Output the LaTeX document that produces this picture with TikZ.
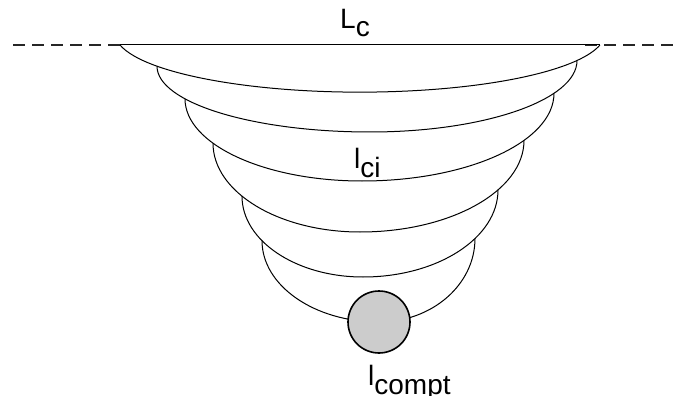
\documentclass[tikz,border=0pt]{standalone}
\usepackage{fontspec}
\setmainfont{Liberation Sans}
\usetikzlibrary{intersections,calc}
\definecolor{ballfill}{HTML}{CCCCCC}
\begin{document}
\begin{tikzpicture}[x=1pt,y=1pt,
  band/.style={line width=1pt, black},
  surface/.style={line width=2pt, dash pattern=on 12pt off 7pt, black!85},
  lbl/.style={font=\fontsize{28}{32}\selectfont, inner sep=0pt, anchor=base west},
  ball/.style={circle, draw, line width=1.6pt, fill=ballfill, minimum size=62pt, inner sep=0pt}]
\useasboundingbox (0,0) rectangle (681,-396);

% surface line
\coordinate (sL0) at (13,-45);
\coordinate (sL1) at (120,-45);
\coordinate (sR0) at (585,-45);
\coordinate (sR1) at (673,-45);
\coordinate (topR) at (600,-45);
\draw[surface] (sL0) -- (sL1);
\draw[surface] (sR0) -- (sR1);
\draw[band] (sL1) -- (topR);

% band 1
\draw[band, name path=b1] (sL1) arc[start angle=191.6, end angle=348.4, x radius=245, y radius=59];

% band 2
\path[name path=v2L] (157,0) -- (157,-400);
\path[name path=v2R] (577,0) -- (577,-400);
\path[name intersections={of=b1 and v2L, by=p2L}];
\path[name intersections={of=b1 and v2R, by=p2R}];
\draw[band, name path=b2] let \p1=(p2L), \p2=(p2R) in (p2L)
  arc[start angle=180, end angle=270, x radius={370pt-\x1}, y radius={\y1+132pt}]
  arc[start angle=270, end angle=360, x radius={\x2-370pt}, y radius={\y2+132pt}];

% band 3
\path[name path=v3L] (185,0) -- (185,-400);
\path[name path=v3R] (554,0) -- (554,-400);
\path[name intersections={of=b2 and v3L, by=p3L}];
\path[name intersections={of=b2 and v3R, by=p3R}];
\draw[band, name path=b3] let \p1=(p3L), \p2=(p3R) in (p3L)
  arc[start angle=180, end angle=270, x radius={362pt-\x1}, y radius={\y1+181pt}]
  arc[start angle=270, end angle=360, x radius={\x2-362pt}, y radius={\y2+181pt}];

% band 4
\path[name path=v4L] (213,0) -- (213,-400);
\path[name path=v4R] (524,0) -- (524,-400);
\path[name intersections={of=b3 and v4L, by=p4L}];
\path[name intersections={of=b3 and v4R, by=p4R}];
\draw[band, name path=b4] let \p1=(p4L), \p2=(p4R) in (p4L)
  arc[start angle=180, end angle=270, x radius={360pt-\x1}, y radius={\y1+232pt}]
  arc[start angle=270, end angle=360, x radius={\x2-360pt}, y radius={\y2+232pt}];

% band 5
\path[name path=v5L] (242,0) -- (242,-400);
\path[name path=v5R] (498,0) -- (498,-400);
\path[name intersections={of=b4 and v5L, by=p5L}];
\path[name intersections={of=b4 and v5R, by=p5R}];
\draw[band, name path=b5] let \p1=(p5L), \p2=(p5R) in (p5L)
  arc[start angle=180, end angle=270, x radius={363pt-\x1}, y radius={\y1+277pt}]
  arc[start angle=270, end angle=360, x radius={\x2-363pt}, y radius={\y2+277pt}];

% band 6
\path[name path=v6L] (262,0) -- (262,-400);
\path[name path=v6R] (475,0) -- (475,-400);
\path[name intersections={of=b5 and v6L, by=p6L}];
\path[name intersections={of=b5 and v6R, by=p6R}];
\draw[band] let \p1=(p6L), \p2=(p6R) in (p6L)
  arc[start angle=180, end angle=270, x radius={379pt-\x1}, y radius={\y1+322pt}]
  arc[start angle=270, end angle=360, x radius={\x2-379pt}, y radius={\y2+322pt}];

% compartment ball
\node[ball] (ballc) at (379,-322) {};

% labels
\node[lbl] (lc) at (340,-29) {L\raisebox{-8pt}{c}};
\node[lbl] (lci) at (354,-168) {l\raisebox{-9pt}{ci}};
\node[lbl] (lcompt) at (368,-385) {l\raisebox{-9pt}{compt}};
\end{tikzpicture}
\end{document}
